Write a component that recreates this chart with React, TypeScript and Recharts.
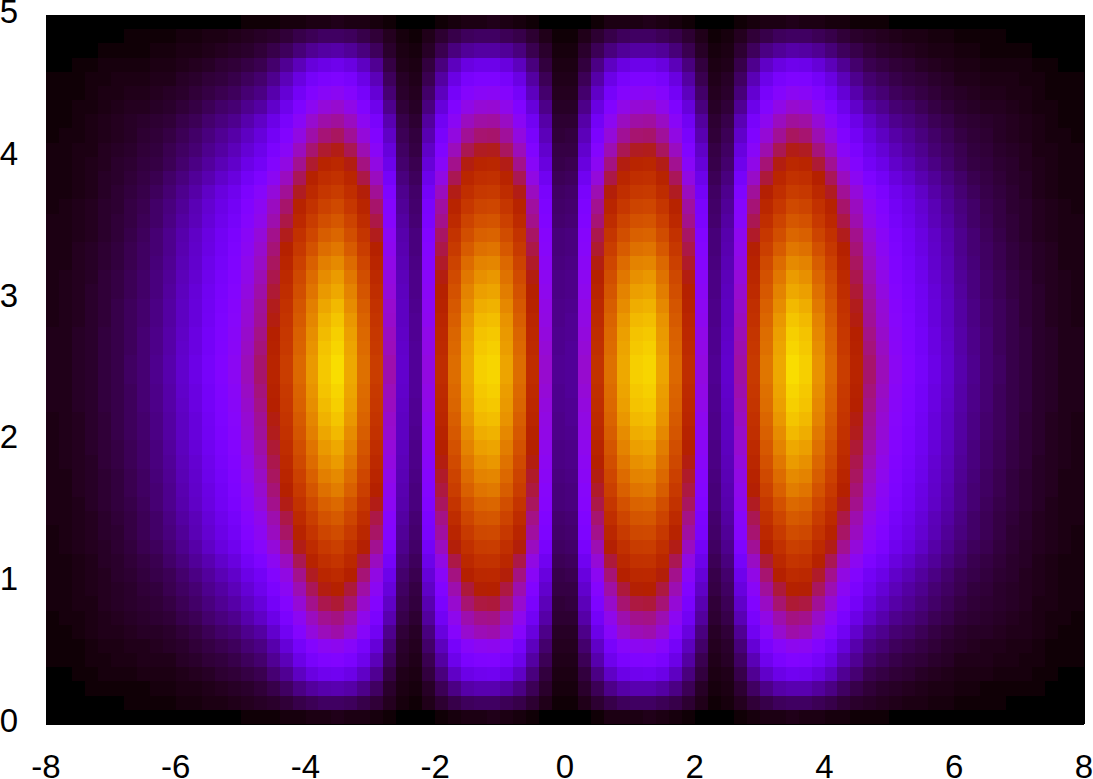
import React from "react";
import { ScatterChart, Scatter, XAxis, YAxis } from "recharts";

// Tick labels
const xTicks = [-8, -6, -4, -2, 0, 2, 4, 6, 8];
const yTicks = [0, 1, 2, 3, 4, 5];

// Grey level per column (left to right), read along the brightest row
const columnLevels = [
  0.016, 0.018, 0.024, 0.03, 0.04, 0.05, 0.063, 0.078, 0.095, 0.12,
  0.15, 0.18, 0.22, 0.26, 0.3, 0.37, 0.43, 0.52, 0.62, 0.74,
  0.84, 0.92, 0.95, 0.87, 0.76, 0.62, 0.38, 0.15, 0.105, 0.33,
  0.56, 0.75, 0.87, 0.93, 0.94, 0.86, 0.75, 0.56, 0.35, 0.1,
  0.105, 0.35, 0.58, 0.76, 0.87, 0.93, 0.94, 0.86, 0.74, 0.56,
  0.33, 0.1, 0.15, 0.39, 0.61, 0.77, 0.87, 0.95, 0.93, 0.83,
  0.74, 0.62, 0.52, 0.43, 0.37, 0.3, 0.26, 0.22, 0.18, 0.15,
  0.12, 0.095, 0.078, 0.063, 0.05, 0.04, 0.03, 0.024, 0.018, 0.016,
];

// Grey level per row (top to bottom), read along the brightest column
const rowLevels = [
  0.016, 0.065, 0.115, 0.19, 0.25, 0.3, 0.35, 0.4, 0.44, 0.49,
  0.54, 0.58, 0.62, 0.66, 0.7, 0.74, 0.78, 0.82, 0.85, 0.875,
  0.9, 0.92, 0.935, 0.945, 0.955, 0.955, 0.945, 0.935, 0.92, 0.9,
  0.875, 0.85, 0.82, 0.79, 0.75, 0.71, 0.67, 0.63, 0.59, 0.55,
  0.51, 0.47, 0.42, 0.385, 0.31, 0.26, 0.2, 0.125, 0.065, 0.016,
];
const peakLevel = 0.955;

// Grey level per row (top to bottom), read along a dim column, which fades faster
const dimRowLevels = [
  0.004, 0.02, 0.03, 0.045, 0.06, 0.075, 0.095, 0.12, 0.14, 0.16,
  0.18, 0.21, 0.24, 0.26, 0.27, 0.29, 0.3, 0.31, 0.32, 0.33,
  0.34, 0.345, 0.355, 0.36, 0.37, 0.37, 0.36, 0.355, 0.345, 0.34,
  0.33, 0.32, 0.31, 0.3, 0.29, 0.27, 0.26, 0.24, 0.21, 0.18,
  0.16, 0.14, 0.12, 0.095, 0.075, 0.06, 0.045, 0.03, 0.02, 0.004,
];
const dimPeakLevel = 0.37;

const X_MIN = -8, X_MAX = 8, Y_MIN = 0, Y_MAX = 5;
const cols = columnLevels.length;
const rows = rowLevels.length;

// How far a column follows the dim profile rather than the bright one
function dimWeight(l: number) {
  if (l < 0.04) return 0;
  if (l < 0.1) return (l - 0.04) / 0.06;
  return Math.min(1, Math.max(0, (0.86 - l) / 0.45));
}

const cells = rowLevels.flatMap((rowLevel, r) =>
  columnLevels.map((colLevel, c) => {
    const w = dimWeight(colLevel);
    const factor = (1 - w) * (rowLevel / peakLevel) + w * (dimRowLevels[r] / dimPeakLevel);
    return {
      x: X_MIN + ((c + 0.5) * (X_MAX - X_MIN)) / cols,
      y: Y_MAX - ((r + 0.5) * (Y_MAX - Y_MIN)) / rows,
      level: colLevel * factor,
    };
  })
);

const WIDTH = 1093, HEIGHT = 779;
const LEFT = 46, RIGHT = 9, TOP = 15, BOTTOM = 55;
const plotW = WIDTH - LEFT - RIGHT;
const plotH = HEIGHT - TOP - BOTTOM;
const cellW = plotW / cols;
const cellH = plotH / rows;

function colour(level: number) {
  const q = Math.floor(level * 256) / 255;
  const r = Math.round(255 * Math.sqrt(q));
  const g = Math.round(255 * q * q * q);
  const b = Math.round(255 * Math.max(0, Math.sin(2 * Math.PI * q)));
  return `rgb(${r},${g},${b})`;
}

const snap = (v: number) => Math.round(Math.round(v * 1000) / 1000);

function Cell(props: any) {
  const { cx, cy, payload } = props;
  const x0 = snap(cx - cellW / 2);
  const x1 = snap(cx + cellW / 2);
  const y0 = snap(cy - cellH / 2);
  const y1 = snap(cy + cellH / 2);
  return <rect x={x0} y={y0} width={x1 - x0} height={y1 - y0} fill={colour(payload.level)} shapeRendering="crispEdges" />;
}

const FONT = "'Liberation Sans', Arial, sans-serif";

function XTick(p: any) {
  return <text x={p.x} y={p.y + 54} textAnchor="middle" fontFamily={FONT} fontSize={33} fill="#000">{p.payload.value}</text>;
}
function YTick(p: any) {
  return <text x={p.x - 28} y={p.y + 8} textAnchor="end" fontFamily={FONT} fontSize={33} fill="#000">{p.payload.value}</text>;
}

const line = { stroke: "#000", strokeWidth: 1, shapeRendering: "crispEdges" };

export default function App() {
  return (
    <div style={{ position: "absolute", left: 0, top: 0, width: WIDTH, height: HEIGHT, background: "#fff" }}>
      <ScatterChart width={WIDTH} height={HEIGHT} margin={{ top: 0, right: 0, bottom: 0, left: 0 }}>
        <Scatter data={cells} dataKey="level" shape={Cell} isAnimationActive={false} />
        <XAxis xAxisId={0} type="number" dataKey="x" domain={[X_MIN, X_MAX]} ticks={xTicks} interval={0} height={BOTTOM}
          tick={XTick} tickSize={-15} tickMargin={15} tickLine={line} axisLine={line} allowDataOverflow />
        <YAxis yAxisId={0} type="number" dataKey="y" domain={[Y_MIN, Y_MAX]} ticks={yTicks} interval={0} width={LEFT}
          tick={YTick} tickSize={-15} tickMargin={15} tickLine={line} axisLine={line} allowDataOverflow />
        <XAxis xAxisId="top" orientation="top" type="number" domain={[X_MIN, X_MAX]} ticks={xTicks} interval={0} height={TOP}
          tick={false} tickSize={-15} tickLine={line} axisLine={line} allowDataOverflow />
        <YAxis yAxisId="right" orientation="right" type="number" domain={[Y_MIN, Y_MAX]} ticks={yTicks} interval={0} width={RIGHT}
          tick={false} tickSize={-15} tickLine={line} axisLine={line} allowDataOverflow />
      </ScatterChart>
    </div>
  );
}
